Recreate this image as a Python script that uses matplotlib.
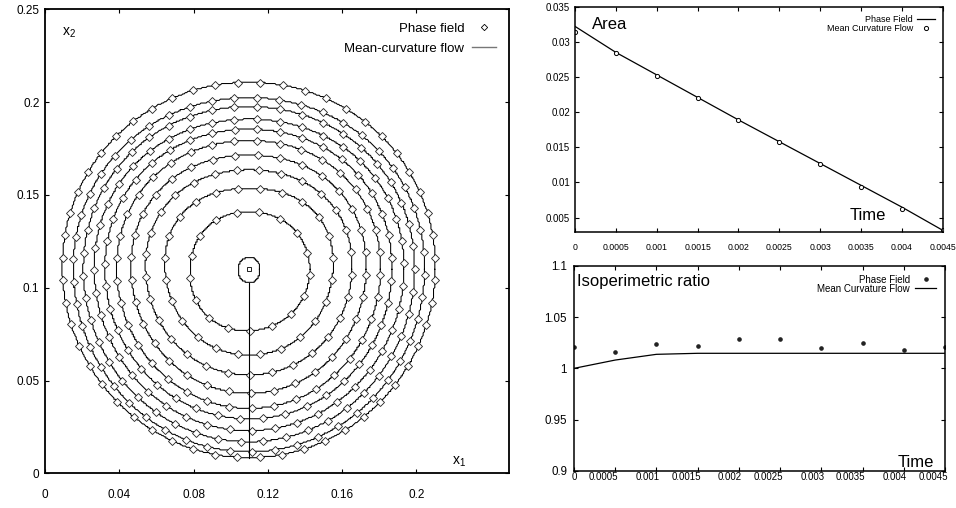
import numpy as np
import matplotlib
matplotlib.use("Agg")
import matplotlib.pyplot as plt
from matplotlib.lines import Line2D
import matplotlib.transforms as mtransforms

plt.rcParams['font.family'] = 'Liberation Sans'
plt.rcParams['mathtext.fontset'] = 'custom'
plt.rcParams['mathtext.rm'] = 'Liberation Sans'
plt.rcParams['mathtext.it'] = 'Liberation Sans'

# ---- left panel: interfaces at t = 0, 0.0005, ..., 0.0045 (outer -> inner)
# distance from the centre (0.11, 0.11) read in 8 directions
centre = (0.11, 0.11)
r_e  = [0.1003, 0.0945, 0.0891, 0.0834, 0.0769, 0.0708, 0.0631, 0.0554, 0.0452, 0.0326]
r_ne = [0.1010, 0.0944, 0.0892, 0.0834, 0.0775, 0.0714, 0.0640, 0.0562, 0.0466, 0.0322]
r_n  = [0.1007, 0.0924, 0.0876, 0.0808, 0.0754, 0.0693, 0.0615, 0.0535, 0.0436, 0.0310]
r_nw = [0.1013, 0.0946, 0.0894, 0.0834, 0.0777, 0.0716, 0.0642, 0.0563, 0.0466, 0.0320]
r_w  = [0.1007, 0.0948, 0.0894, 0.0835, 0.0777, 0.0714, 0.0637, 0.0558, 0.0454, 0.0319]
r_sw = [0.1008, 0.0965, 0.0912, 0.0852, 0.0792, 0.0730, 0.0652, 0.0565, 0.0457, 0.0338]
r_s  = [0.1016, 0.0984, 0.0930, 0.0870, 0.0807, 0.0750, 0.0669, 0.0570, 0.0463, 0.0332]
r_se = [0.1005, 0.0962, 0.0908, 0.0850, 0.0788, 0.0728, 0.0650, 0.0562, 0.0456, 0.0330]
n_diamonds = [52, 49, 46, 43, 40, 37, 33, 29, 24, 17]

# last tiny interface near the centre
loop_r = [0.0057, 0.0062, 0.0064, 0.0062, 0.0060, 0.0066, 0.0073, 0.0066]

x_ticks = [0, 0.04, 0.08, 0.12, 0.16, 0.2]
x_labels = ['0', '0.04', '0.08', '0.12', '0.16', '0.2']
y_ticks = [0, 0.05, 0.1, 0.15, 0.2, 0.25]
y_labels = ['0', '0.05', '0.1', '0.15', '0.2', '0.25']

# ---- right panels
times = [0, 0.0005, 0.001, 0.0015, 0.002, 0.0025, 0.003, 0.0035, 0.004, 0.0045]
time_labels = ['0', '0.0005', '0.001', '0.0015', '0.002', '0.0025', '0.003', '0.0035', '0.004', '0.0045']
area_pf = [0.0322, 0.0285, 0.0253, 0.0221, 0.0189, 0.0158, 0.0127, 0.0096, 0.0065, 0.0032]
area_mcf = [0.03145, 0.02837, 0.02519, 0.02206, 0.01889, 0.01576, 0.01263, 0.00941, 0.00628, 0.00325]
area_ticks = [0.005, 0.01, 0.015, 0.02, 0.025, 0.03, 0.035]
area_labels = ['0.005', '0.01', '0.015', '0.02', '0.025', '0.03', '0.035']
iso_pf = [1.0211, 1.0162, 1.0234, 1.0218, 1.0286, 1.0286, 1.0195, 1.0247, 1.0182, 1.0211]
iso_mcf = [1.0, 1.0081, 1.0137, 1.0147, 1.0147, 1.0147, 1.0147, 1.0147, 1.0147, 1.0147]
iso_ticks = [0.9, 0.95, 1.0, 1.05, 1.1]
iso_labels = ['0.9', '0.95', '1', '1.05', '1.1']

grid_h = 0.0007  # phase-field mesh gives the interfaces a stair-step look


def closed_curve(radii, n=900):
    radii = np.asarray(radii, dtype=float)
    m = len(radii)
    c = np.fft.rfft(radii) / m
    th = np.linspace(0, 2 * np.pi, n)
    r = np.full(n, c[0].real)
    for k in range(1, len(c)):
        w = 1.0 if (m % 2 == 0 and k == m // 2) else 2.0
        r += w * (c[k] * np.exp(1j * k * th)).real
    return centre[0] + r * np.cos(th), centre[1] + r * np.sin(th)


def stairs(x, y):
    qx = np.round(x / grid_h) * grid_h
    qy = np.round(y / grid_h) * grid_h
    keep = np.concatenate([[True], (np.diff(qx) != 0) | (np.diff(qy) != 0)])
    return qx[keep], qy[keep]


def along(x, y, count, start=0.25):
    s = np.concatenate([[0], np.cumsum(np.hypot(np.diff(x), np.diff(y)))])
    pos = ((start + np.arange(count) / count) % 1.0) * s[-1]
    return np.interp(pos, s, x), np.interp(pos, s, y)


fig = plt.figure(figsize=(9.56, 5.08), dpi=100)
ax = fig.add_axes([0.0471, 0.0683, 0.4854, 0.9134])

for i in range(len(r_e)):
    radii = [r_e[i], r_ne[i], r_n[i], r_nw[i], r_w[i], r_sw[i], r_s[i], r_se[i]]
    cx, cy = closed_curve(radii)
    sx, sy = stairs(cx, cy)
    ax.plot(sx, sy, color='black', lw=0.75)
    dx, dy = along(cx, cy, n_diamonds[i], start=0.25 + 0.5 / n_diamonds[i])
    ax.plot(dx, dy, ls='none', marker='D', ms=3.7, mfc='white', mec='#222222', mew=0.6)

lx, ly = closed_curve(loop_r)
sx, sy = stairs(lx, ly)
ax.plot(sx, sy, color='black', lw=0.75)
ax.plot([centre[0], centre[0]], [centre[1] - r_s[0], centre[1] - loop_r[6]], color='black', lw=0.8)
ax.plot([centre[0]], [centre[1]], ls='none', marker='s', ms=3.5, mfc='white', mec='black', mew=0.6)

ax.set_xlim(0, 0.25)
ax.set_ylim(0, 0.25)
ax.set_xticks(x_ticks)
ax.set_xticklabels(x_labels)
ax.set_yticks(y_ticks)
ax.set_yticklabels(y_labels)
ax.tick_params(direction='in', top=True, right=True, length=3, width=0.8, labelsize=8.5)
ax.tick_params(axis='x', pad=11)
ax.tick_params(axis='y', pad=4)
for sp in ax.spines.values():
    sp.set_linewidth(1.3)
ax.text(0.036, 0.95, r'$\mathregular{x_2}$', transform=ax.transAxes, fontsize=10, va='center')
ax.text(0.876, 0.025, r'$\mathregular{x_1}$', transform=ax.transAxes, fontsize=10, va='center')
h1 = Line2D([], [], ls='none', marker='D', ms=3.2, mfc='white', mec='black', mew=0.6)
h2 = Line2D([], [], color='#777777', lw=1.0)
ax.legend([h1, h2], ['Phase field', 'Mean-curvature flow'], loc='upper right', markerfirst=False,
          frameon=False, fontsize=9.5, handlelength=1.8, handletextpad=0.6, labelspacing=0.6,
          borderaxespad=0.6)

# area
ax2 = fig.add_axes([0.6015, 0.5439, 0.3846, 0.4429])
ax2.plot(times, area_pf, color='black', lw=0.9, label='Phase Field')
ax2.plot(times, area_mcf, ls='none', marker='o', ms=3, mfc='white', mec='black', mew=0.7,
         label='Mean Curvature Flow')
ax2.set_xlim(0, 0.0045)
ax2.set_ylim(0.003, 0.035)
ax2.set_xticks(times)
ax2.set_xticklabels(time_labels)
ax2.set_yticks(area_ticks)
ax2.set_yticklabels(area_labels)
ax2.tick_params(direction='in', top=True, right=True, length=3, width=0.8, labelsize=7)
ax2.tick_params(axis='x', pad=8, labelsize=6.3)
ax2.tick_params(axis='y', pad=3.5)
for sp in ax2.spines.values():
    sp.set_linewidth(1.1)
ax2.text(0.046, 0.919, 'Area', transform=ax2.transAxes, fontsize=12, va='center')
ax2.text(0.748, 0.074, 'Time', transform=ax2.transAxes, fontsize=12, va='center')
ax2.legend(loc='upper right', markerfirst=False, frameon=False, fontsize=6.5, handlelength=2.0,
           handletextpad=0.4, labelspacing=0.05, borderaxespad=0.5)

# isoperimetric ratio
ax3 = fig.add_axes([0.6004, 0.0734, 0.3881, 0.403])
ax3.plot(times, iso_pf, ls='none', marker='o', ms=2.3, color='#222222', label='Phase Field')
ax3.plot(times, iso_mcf, color='black', lw=0.9, label='Mean Curvature Flow')
ax3.set_xlim(0, 0.0045)
ax3.set_ylim(0.9, 1.1)
ax3.set_xticks(times)
ax3.set_xticklabels(time_labels, ha='right')
ax3.set_yticks(iso_ticks)
ax3.set_yticklabels(iso_labels)
ax3.tick_params(direction='in', top=True, right=True, length=3, width=0.8, labelsize=8.3)
ax3.tick_params(axis='x', pad=1, labelsize=7)
ax3.tick_params(axis='y', pad=5)
shift = mtransforms.ScaledTranslation(3 / 100, 0, fig.dpi_scale_trans)
for lab in ax3.get_xticklabels():
    lab.set_transform(lab.get_transform() + shift)
for sp in ax3.spines.values():
    sp.set_linewidth(1.1)
ax3.text(0.008, 0.923, 'Isoperimetric ratio', transform=ax3.transAxes, fontsize=12, va='center')
ax3.text(0.873, 0.0425, 'Time', transform=ax3.transAxes, fontsize=12, va='center')
ax3.legend(loc='upper right', markerfirst=False, frameon=False, fontsize=7, handlelength=2.2,
           handletextpad=0.5, labelspacing=-0.1, borderaxespad=0.5)

fig.savefig('out.png', dpi=100)
